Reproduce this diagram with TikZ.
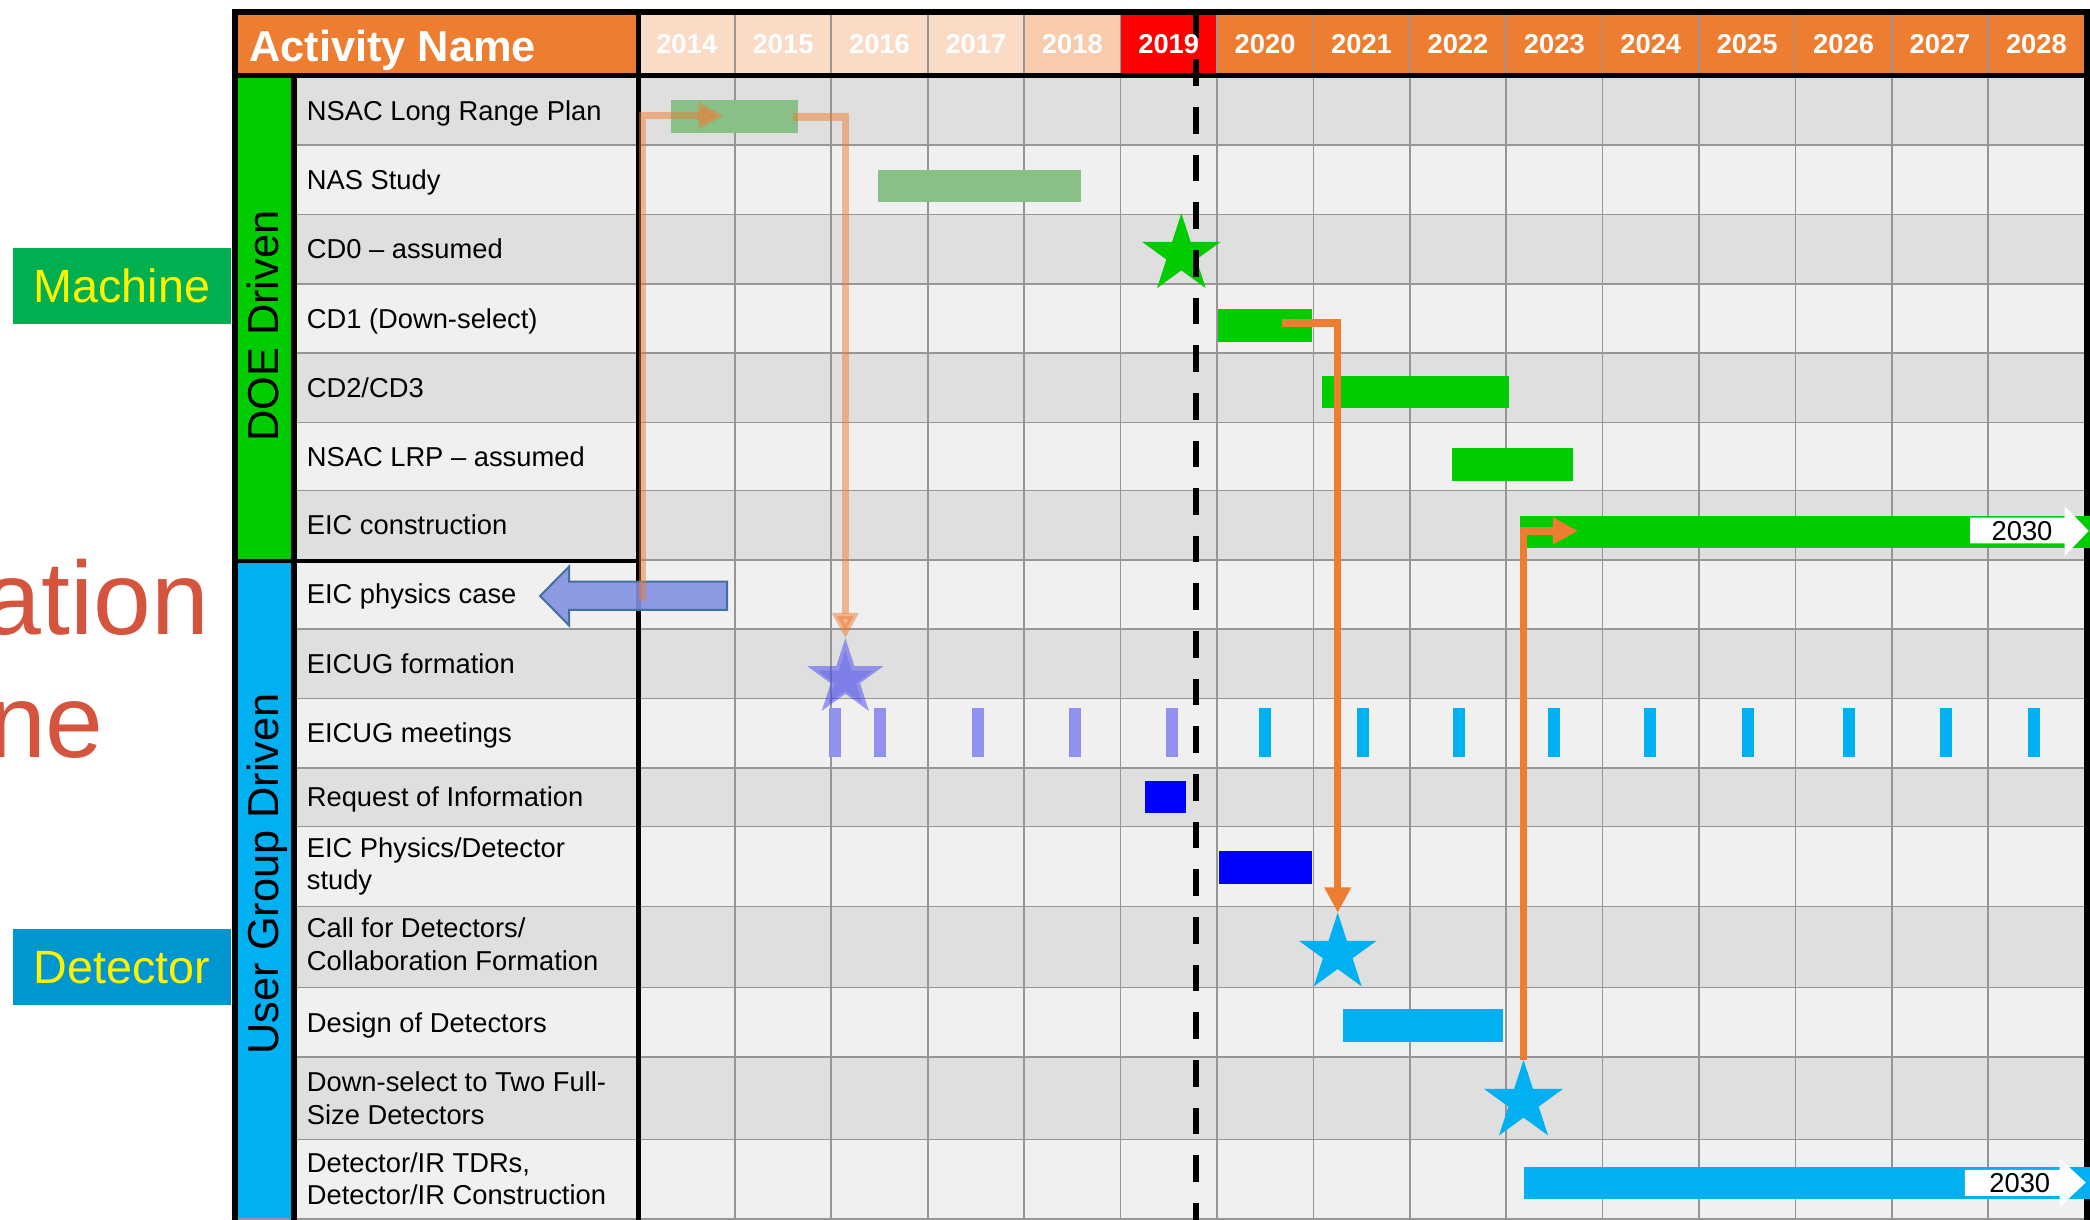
\documentclass[tikz,border=0pt]{standalone}
\usepackage{fontspec}
\setmainfont{Liberation Sans}
\usetikzlibrary{shapes.geometric,arrows.meta}

\definecolor{hdrorange}{RGB}{237,125,49}
\definecolor{hdrpeach}{RGB}{250,219,198}
\definecolor{hdrpeachdk}{RGB}{248,203,173}
\definecolor{hdrred}{RGB}{255,0,0}
\definecolor{rowdark}{RGB}{223,223,223}
\definecolor{rowlight}{RGB}{240,240,240}
\definecolor{gridgray}{RGB}{150,150,150}
\definecolor{doegreen}{RGB}{0,204,0}
\definecolor{usercyan}{RGB}{0,176,240}
\definecolor{palegreen}{RGB}{136,192,136}
\definecolor{machgreen}{RGB}{0,176,80}
\definecolor{detblue}{RGB}{0,150,207}
\definecolor{titlered}{RGB}{212,84,62}
\definecolor{tickviolet}{RGB}{145,145,240}
\definecolor{casefill}{RGB}{130,145,225}
\definecolor{caseedge}{RGB}{65,113,156}
\definecolor{starviolet}{RGB}{70,70,240}
\definecolor{puregreen}{RGB}{0,204,0}
\definecolor{pureblue}{RGB}{0,0,255}

\begin{document}
\begin{tikzpicture}[x=1pt,y=-1pt,
  border/.style={line width=4.3pt, draw=black},
  gridline/.style={line width=1.2pt, draw=gridgray},
  bar/.style={rectangle, inner sep=0pt, outer sep=0pt, draw=none},
  milestone/.style={star, star points=5, star point ratio=2.618, inner sep=0pt, outer sep=0pt, draw=none},
  linkpale/.style={draw=hdrorange, opacity=0.5, line width=5.5pt, line join=miter, -{Triangle[length=19pt,width=19pt]}},
  linksolid/.style={draw=hdrorange, line width=5.5pt, line join=miter, -{Triangle[length=19pt,width=19pt]}},
  lbl/.style={anchor=base west, inner sep=0pt, font=\fontsize{20.5}{24.5}\selectfont},
  yearlbl/.style={anchor=base, inner sep=0pt, text=white, font=\bfseries\fontsize{20.5}{20.5}\selectfont},
  grouplbl/.style={rotate=90, anchor=base, inner sep=0pt, font=\fontsize{32.5}{32.5}\selectfont},
  sidebox/.style={minimum width=163pt, minimum height=57pt, inner sep=0pt, text=yellow, font=\fontsize{35}{35}\selectfont},
  endlbl/.style={anchor=base, inner sep=0pt, font=\fontsize{20.5}{20.5}\selectfont},
  tick/.style={bar, minimum width=9pt, minimum height=36.7pt}
]
\useasboundingbox (0,0) rectangle (1568,915);
\clip (0,0) rectangle (1568,915);

% alternating row shading
\foreach \t/\b/\c in {57/109/rowdark,109/161/rowlight,161/213/rowdark,213/265/rowlight,
  265/317/rowdark,317/368/rowlight,368/420/rowdark,420/472/rowlight,472/524/rowdark,
  524/576/rowlight,576/620/rowdark,620/680/rowlight,680/741/rowdark,741/793/rowlight,
  793/855/rowdark,855/915/rowlight}
  \fill[\c] (220,\t) rectangle (1566,\b);

% group columns
\fill[doegreen] (176,56.6) rectangle (220.4,421);
\fill[usercyan] (176,421) rectangle (220.4,915);

% header cells
\fill[hdrorange] (176,8.8) rectangle (479,56.6);
\foreach \i/\c in {0/hdrpeach,1/hdrpeach,2/hdrpeach,3/hdrpeach,4/hdrpeachdk,5/hdrred,
  6/hdrorange,7/hdrorange,8/hdrorange,9/hdrorange,10/hdrorange,11/hdrorange,
  12/hdrorange,13/hdrorange,14/hdrorange}
  \fill[\c] ({479+72.33*\i},8.8) rectangle ({479+72.33*(\i+1)},56.6);

% grid lines
\foreach \i in {1,...,14}
  \draw[gridline] ({479+72.33*\i},8.8) -- ({479+72.33*\i},915);
\foreach \y in {109,161,213,265,317,368,420,472,524,576,620,680,741,793,855}
  \draw[gridline] (220,\y) -- (1566,\y);
\draw[gridline] (176,914.4) -- (1568,914.4);

% heavy table rules
\draw[border] (176.3,6.6) -- (176.3,915);
\draw[border] (220.4,56.6) -- (220.4,915);
\draw[border] (479,6.6) -- (479,915);
\draw[border] (1566,6.6) -- (1566,915);
\draw[border] (174.1,8.8) -- (1568,8.8);
\draw[border] (174.1,56.6) -- (1568,56.6);
\draw[border, line width=3pt] (174.1,421) -- (479,421);

% activity bars
\node[bar, fill=palegreen, minimum width=94.8pt, minimum height=24.5pt] (nsacbar) at (551,87.25) {};
\node[bar, fill=palegreen, minimum width=152.6pt, minimum height=24.3pt] (nasbar) at (734.7,139.65) {};
\node[bar, fill=puregreen, minimum width=70.5pt, minimum height=24.3pt] (cdonebar) at (949,244.15) {};
\node[bar, fill=puregreen, minimum width=140.2pt, minimum height=24.3pt] (cdtwobar) at (1061.9,294.15) {};
\node[bar, fill=puregreen, minimum width=91.1pt, minimum height=24.3pt] (lrpbar) at (1134.85,348.45) {};
\node[bar, fill=puregreen, minimum width=427.6pt, minimum height=24pt] (consbar) at (1354.2,398.8) {};
\node[bar, fill=pureblue, minimum width=30.4pt, minimum height=24.4pt] (rfibar) at (874.5,597.8) {};
\node[bar, fill=pureblue, minimum width=69.4pt, minimum height=24.8pt] (studybar) at (949.6,650.8) {};
\node[bar, fill=usercyan, minimum width=120.1pt, minimum height=24.2pt] (designbar) at (1067.45,769.3) {};
\node[bar, fill=usercyan, minimum width=424.6pt, minimum height=24pt] (tdrbar) at (1355.7,887.2) {};

% user group meetings
\foreach \x [count=\k] in {626.4,660,733.4,806.4,879}
  \node[tick, fill=tickviolet] (mtgold\k) at (\x,549.65) {};
\foreach \x [count=\k] in {949.2,1022.6,1094.4,1166.2,1238.1,1311.4,1386.9,1459.6,1526.1}
  \node[tick, fill=usercyan] (mtgnew\k) at (\x,549.65) {};

% milestones
\node[milestone, fill=doegreen, minimum size=62pt] (cdzerostar) at (886.3,191) {};
\node[milestone, fill=starviolet, opacity=0.5, minimum size=60.4pt] (formstar) at (634.2,509) {};
\node[milestone, fill=starviolet, opacity=0.25, minimum size=44pt] (formstarin) at (634.2,510) {};
\node[milestone, fill=usercyan, minimum size=61.2pt] (callstar) at (1003.6,715.3) {};
\node[milestone, fill=usercyan, minimum size=62.6pt] (downstar) at (1143,826.5) {};

% physics case block arrow
\filldraw[fill=casefill, fill opacity=0.9, draw=caseedge, line width=1.5pt, line join=miter]
  (405.2,447.1) -- (427,425) -- (427,436.3) -- (545.5,436.3) -- (545.5,457.6)
  -- (427,457.6) -- (427,469.3) -- cycle;

% dependency links
\coordinate (caseout) at (482,451);
\coordinate (nsacin) at (543,86.8);
\coordinate (nsacout) at (595,87.8);
\coordinate (cdout) at (961.8,242.3);
\coordinate (consin) at (1184,398.3);
\draw[linkpale] (caseout) |- (nsacin);
\draw[linkpale] (nsacout) -| (formstar.north);
\draw[linksolid] (cdout) -| (callstar.north);
\draw[linksolid] (downstar.north) |- (consin);

% today marker
\draw[line width=4.3pt, dash pattern=on 20pt off 15.75pt] (897,8.75) -- (897,915);

% open-ended bars
\fill[white] (1478,388.3) -- (1549,388.3) -- (1549,379.6) -- (1567,398.3)
  -- (1549,417) -- (1549,407.6) -- (1478,407.6) -- cycle;
\node[endlbl] (consend) at (1517,405.5) {2030};
\fill[white] (1474.1,877.7) -- (1545.2,877.7) -- (1545.2,869) -- (1564.8,887.2)
  -- (1545.2,905.6) -- (1545.2,897.2) -- (1474.1,897.2) -- cycle;
\node[endlbl] (tdrend) at (1515.3,895) {2030};

% header text
\node[anchor=base west, inner sep=0pt, text=white, font=\bfseries\fontsize{32.5}{32.5}\selectfont] (actname) at (187,46) {Activity Name};
\foreach \i/\yr in {0/2014,1/2015,2/2016,3/2017,4/2018,5/2019,6/2020,7/2021,8/2022,
  9/2023,10/2024,11/2025,12/2026,13/2027,14/2028}
  \node[yearlbl] (yr\yr) at ({479+72.33*(\i+0.5)},39.8) {\yr};

% group labels
\node[grouplbl] (doe) at (209.3,244.7) {DOE Driven};
\node[grouplbl] (users) at (209.3,655.5) {User Group Driven};

% activity names
\node[lbl] (act1) at (230,90.3) {NSAC Long Range Plan};
\node[lbl] (act2) at (230,142.3) {NAS Study};
\node[lbl] (act3) at (230,194.3) {CD0 -- assumed};
\node[lbl] (act4) at (230,246.3) {CD1 (Down-select)};
\node[lbl] (act5) at (230,298.3) {CD2/CD3};
\node[lbl] (act6) at (230,349.8) {NSAC LRP -- assumed};
\node[lbl] (act7) at (230,401.3) {EIC construction};
\node[lbl] (act8) at (230,452.8) {EIC physics case};
\node[lbl] (act9) at (230,505.3) {EICUG formation};
\node[lbl] (act10) at (230,557.3) {EICUG meetings};
\node[lbl] (act11) at (230,605.3) {Request of Information};
\node[lbl] (act12) at (230,643) {\vtop{\hbox{EIC Physics/Detector}\hbox{study}}};
\node[lbl] (act13) at (230,703.3) {\vtop{\hbox{Call for Detectors/}\hbox{Collaboration Formation}}};
\node[lbl] (act14) at (230,774.3) {Design of Detectors};
\node[lbl] (act15) at (230,818.8) {\vtop{\hbox{Down-select to Two Full-}\hbox{Size Detectors}}};
\node[lbl] (act16) at (230,879.5) {\vtop{\hbox{Detector/IR TDRs,}\hbox{Detector/IR Construction}}};

% side tags
\node[sidebox, fill=machgreen] (machine) at (91.5,214.5) {Machine};
\node[sidebox, fill=detblue] (detector) at (91.5,725.8) {Detector};

% title fragments running off the left edge
\node[anchor=base east, inner sep=0pt, text=titlered, font=\fontsize{78}{78}\selectfont] (titleone) at (157,476) {ation};
\node[anchor=base east, inner sep=0pt, text=titlered, font=\fontsize{78}{78}\selectfont] (titletwo) at (78,568.6) {ne};
\end{tikzpicture}
\end{document}
